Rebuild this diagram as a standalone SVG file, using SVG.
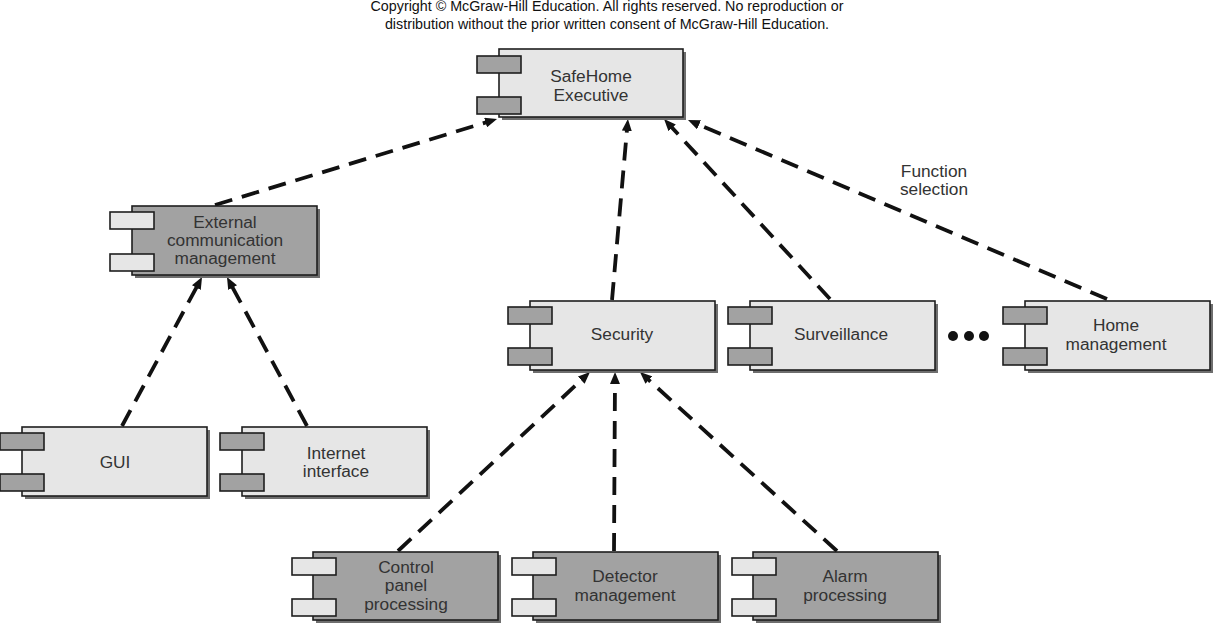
<svg xmlns="http://www.w3.org/2000/svg" width="1214" height="626" viewBox="0 0 1214 626">
<style>
.bg{fill:#ffffff}
.sh{fill:#6e6e6e}
.lt{fill:#e6e6e6;stroke:#1e1e1e;stroke-width:1.6}
.dk{fill:#a2a2a2;stroke:#1e1e1e;stroke-width:1.6}
.t{font-family:"Liberation Sans",Arial,sans-serif;font-size:17.3px;fill:#333333;text-anchor:middle}
.cp{font-family:"Liberation Sans",Arial,sans-serif;font-size:14.3px;fill:#111111;text-anchor:middle}
.c{fill:none;stroke:#111111;stroke-width:3.8;stroke-dasharray:18 10;marker-end:url(#ah)}
</style>
<defs>
<marker id="ah" viewBox="0 0 12 10" refX="6" refY="5" markerWidth="12" markerHeight="10" markerUnits="userSpaceOnUse" orient="auto">
<path d="M0,0 L12,5 L0,10 z" fill="#111111"/>
</marker>
</defs>
<rect class="bg" x="0" y="0" width="1214" height="626"/>
<text class="cp" x="607" y="11">Copyright © McGraw-Hill Education. All rights reserved. No reproduction or</text>
<text class="cp" x="607" y="29">distribution without the prior written consent of McGraw-Hill Education.</text>

<g id="connectors">
<line class="c" x1="215" y1="205" x2="491.3" y2="120.8"/>
<line class="c" x1="612" y1="300" x2="627.4" y2="125"/>
<line class="c" x1="830" y1="299" x2="668.1" y2="123.4"/>
<line class="c" x1="1107" y1="299" x2="693.5" y2="122.4"/>
<line class="c" x1="122" y1="426" x2="199.2" y2="282.3"/>
<line class="c" x1="307" y1="426" x2="229.8" y2="282.3"/>
<line class="c" x1="398" y1="551" x2="585.6" y2="376.1"/>
<line class="c" x1="614" y1="551" x2="615" y2="378"/>
<line class="c" x1="837" y1="551" x2="644.4" y2="376"/>
</g>

<g id="safehome">
<rect class="sh" x="502" y="52" width="184" height="68"/>
<rect class="lt" x="499" y="49" width="184" height="68"/>
<rect class="dk" x="477" y="56" width="44" height="17"/>
<rect class="dk" x="477" y="97" width="44" height="17"/>
<text class="t" x="591" y="82">SafeHome</text>
<text class="t" x="591" y="101">Executive</text>
</g>

<g id="external">
<rect class="sh" x="135" y="209" width="185" height="69"/>
<rect class="dk" x="132" y="206" width="185" height="69"/>
<rect class="lt" x="110" y="212" width="44" height="17"/>
<rect class="lt" x="110" y="254" width="44" height="17"/>
<text class="t" x="225" y="228">External</text>
<text class="t" x="225" y="246">communication</text>
<text class="t" x="225" y="264">management</text>
</g>

<g id="gui">
<rect class="sh" x="25" y="430" width="185" height="69"/>
<rect class="lt" x="22" y="427" width="185" height="69"/>
<rect class="dk" x="0" y="433" width="44" height="17"/>
<rect class="dk" x="0" y="474" width="44" height="17"/>
<text class="t" x="115" y="468">GUI</text>
</g>

<g id="internet">
<rect class="sh" x="245" y="430" width="185" height="69"/>
<rect class="lt" x="242" y="427" width="185" height="69"/>
<rect class="dk" x="220" y="433" width="44" height="17"/>
<rect class="dk" x="220" y="474" width="44" height="17"/>
<text class="t" x="336" y="459">Internet</text>
<text class="t" x="336" y="477">interface</text>
</g>

<g id="security">
<rect class="sh" x="533" y="304" width="185" height="69"/>
<rect class="lt" x="530" y="301" width="185" height="69"/>
<rect class="dk" x="508" y="307" width="44" height="17"/>
<rect class="dk" x="508" y="348" width="44" height="17"/>
<text class="t" x="622" y="340">Security</text>
</g>

<g id="surveillance">
<rect class="sh" x="753" y="304" width="185" height="69"/>
<rect class="lt" x="750" y="301" width="185" height="69"/>
<rect class="dk" x="728" y="307" width="44" height="17"/>
<rect class="dk" x="728" y="348" width="44" height="17"/>
<text class="t" x="841" y="340">Surveillance</text>
</g>

<g id="dots">
<circle cx="953" cy="336" r="5" fill="#111111"/>
<circle cx="969" cy="336" r="5" fill="#111111"/>
<circle cx="984" cy="336" r="5" fill="#111111"/>
</g>

<g id="home">
<rect class="sh" x="1028" y="304" width="185" height="69"/>
<rect class="lt" x="1025" y="301" width="185" height="69"/>
<rect class="dk" x="1003" y="307" width="44" height="17"/>
<rect class="dk" x="1003" y="348" width="44" height="17"/>
<text class="t" x="1116" y="331">Home</text>
<text class="t" x="1116" y="350">management</text>
</g>

<g id="control">
<rect class="sh" x="316" y="555" width="185" height="68"/>
<rect class="dk" x="313" y="552" width="185" height="68"/>
<rect class="lt" x="292" y="558" width="44" height="17"/>
<rect class="lt" x="292" y="599" width="44" height="17"/>
<text class="t" x="406" y="573">Control</text>
<text class="t" x="406" y="591">panel</text>
<text class="t" x="406" y="610">processing</text>
</g>

<g id="detector">
<rect class="sh" x="536" y="555" width="185" height="68"/>
<rect class="dk" x="533" y="552" width="185" height="68"/>
<rect class="lt" x="512" y="558" width="44" height="17"/>
<rect class="lt" x="512" y="599" width="44" height="17"/>
<text class="t" x="625" y="582">Detector</text>
<text class="t" x="625" y="601">management</text>
</g>

<g id="alarm">
<rect class="sh" x="756" y="555" width="185" height="68"/>
<rect class="dk" x="753" y="552" width="185" height="68"/>
<rect class="lt" x="732" y="558" width="44" height="17"/>
<rect class="lt" x="732" y="599" width="44" height="17"/>
<text class="t" x="845" y="582">Alarm</text>
<text class="t" x="845" y="601">processing</text>
</g>

<g id="label">
<text class="t" x="934" y="177">Function</text>
<text class="t" x="934" y="195">selection</text>
</g>
</svg>
